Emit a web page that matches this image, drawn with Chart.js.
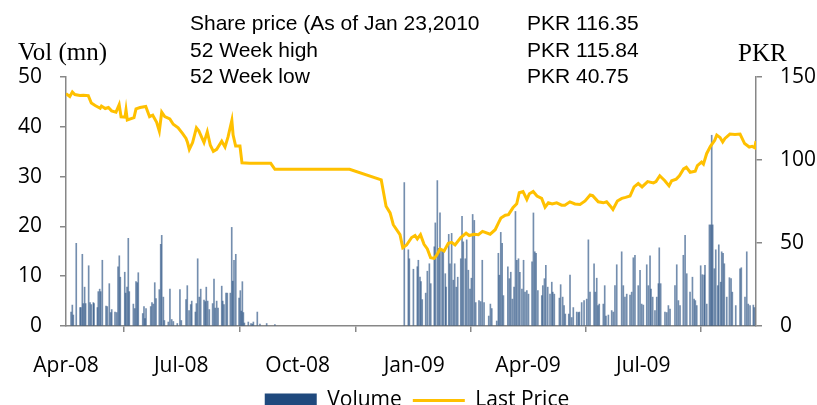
<!DOCTYPE html>
<html>
<head>
<meta charset="utf-8">
<script src="https://cdn.jsdelivr.net/npm/chart.js@4.4.1/dist/chart.umd.min.js"></script>
<style>
  html, body { margin:0; padding:0; background:#fff; overflow:hidden; }
  #wrap { position:relative; width:817px; height:421px; }
</style>
</head>
<body>
<div id="wrap"><canvas id="priceChart"></canvas></div>
<script>
// x positions are days since 1 Apr 2008
const tickDays   = [0, 91, 183, 275, 365, 456];
const tickLabels = ["Apr-08", "Jul-08", "Oct-08", "Jan-09", "Apr-09", "Jul-09"];

const infoLabels = ["Share price (As of Jan 23,2010", "52 Week high", "52 Week low"];
const infoValues = ["PKR 116.35", "PKR 115.84", "PKR 40.75"];

const volDays = [
  4.0, 5.0, 5.8, 8.1, 11.1, 11.8, 12.9, 13.7, 14.7, 15.5, 17.9, 19.0, 20.0, 21.6, 22.1, 24.8, 25.5, 26.6, 27.4, 28.7,
  31.6, 32.6, 34.2, 35.3, 36.1, 38.7, 40.0, 41.1, 42.1, 42.9, 46.4, 47.1, 48.2, 49.2, 50.0, 53.2, 54.3, 55.3, 56.3, 57.1,
  60.6, 61.6, 62.4, 63.2, 66.9, 67.9, 69.0, 70.1, 71.1, 73.7, 74.8, 75.6, 76.9, 77.7, 80.8, 82.1, 83.5, 84.8, 87.9, 90.0,
  91.1, 94.8, 95.8, 97.2, 98.5, 99.3, 102.2, 103.0, 104.0, 105.3, 106.4, 109.0, 110.0, 110.8, 111.9, 113.2, 115.8, 116.9, 117.9, 119.0,
  120.1, 123.0, 123.8, 124.8, 126.4, 127.4, 129.8, 130.9, 131.7, 132.7, 134.1, 136.7, 137.7, 138.5, 139.3, 140.1, 140.9, 144.0, 146.1, 147.2,
  148.0, 151.1, 153.2, 158.5, 165.0,
  267.2, 270.4, 271.2, 274.4, 277.5, 278.3, 279.6, 280.4, 281.4, 284.1, 285.4, 287.0, 288.1, 290.9, 291.7, 293.3, 294.4, 295.4, 297.0, 298.0,
  299.6, 300.2, 302.3, 303.3, 304.6, 305.9, 307.0, 308.3, 309.4, 311.8, 312.8, 313.8, 315.4, 316.5, 317.8, 319.1, 320.2, 321.2, 322.5, 323.6,
  326.2, 327.5, 328.8, 330.2, 333.9, 335.2, 336.3, 340.2, 341.5, 342.3, 343.4, 344.5, 345.5, 349.0, 350.2, 351.3, 352.6, 353.9, 355.0, 356.1,
  357.4, 358.5, 360.1, 361.4, 362.6, 364.0, 365.3, 368.1, 369.2, 370.3, 371.3, 372.7, 375.8, 376.6, 377.9, 379.0, 380.5, 382.3, 383.7, 384.5,
  385.7, 389.7, 390.7, 392.3, 393.4, 394.4, 397.1, 398.1, 399.4, 400.7, 403.4, 404.7, 405.5, 407.3, 409.2, 411.3, 412.6, 413.9, 417.1, 418.1,
  419.2, 420.2, 421.2, 424.4, 425.5, 426.5, 428.4, 431.0, 432.3, 433.6, 435.0, 438.9, 440.2, 441.5, 442.9, 445.5, 446.8, 448.1, 449.4, 452.0,
  453.4, 454.7, 456.0, 458.7, 460.0, 461.3, 462.1, 463.4, 465.2, 466.6, 467.9, 468.6, 469.7, 473.1, 474.5, 475.8, 477.1, 481.0, 482.4, 483.7,
  485.0, 487.6, 489.0, 490.3, 492.9, 494.8, 496.1, 497.1, 498.2, 501.3, 502.6, 504.0, 504.7, 506.1, 508.2, 509.2, 510.0, 510.8, 512.1, 513.2,
  514.8, 515.6, 517.1, 517.9, 519.0, 520.0, 521.9, 524.0, 525.3, 526.3, 529.0, 532.4, 533.4, 536.3, 537.7, 538.9, 540.3, 542.9, 543.7
];
const volumes = [
  2.8, 4.2, 2.2, 16.6, 3.7, 3.7, 14.4, 4.5, 7.8, 4.5, 12.1, 4.7, 4.3, 4.7, 4.5, 3.7, 6.9, 7.4, 6.9, 13.2,
  4.0, 3.9, 8.5, 2.7, 3.3, 2.8, 2.7, 11.9, 14.1, 9.8, 10.8, 6.6, 7.8, 17.6, 6.9, 4.4, 3.5, 8.9, 8.7, 10.7,
  2.5, 3.9, 1.5, 3.5, 3.9, 4.7, 4.4, 8.7, 5.5, 7.3, 16.4, 18.2, 5.8, 1.1, 0.8, 7.4, 1.3, 0.9, 0.5, 7.3,
  1.1, 5.3, 8.1, 3.1, 4.3, 5.0, 2.8, 4.5, 13.5, 5.8, 7.4, 5.2, 4.9, 7.8, 5.0, 3.3, 4.5, 9.4, 3.6, 5.0,
  3.6, 8.0, 5.0, 4.3, 6.6, 6.6, 6.6, 19.8, 9.0, 13.2, 14.4, 5.6, 7.1, 3.0, 8.9, 2.7, 0.6, 0.8, 0.5, 0.4,
  0.8, 2.8, 0.4, 0.5, 0.3,
  28.8, 15.3, 13.5, 11.4, 11.9, 13.2, 9.8, 8.9, 5.3, 6.6, 11.0, 12.5, 8.5, 15.9, 20.7, 29.2, 15.6, 22.7, 15.3, 14.9,
  10.5, 7.8, 18.4, 12.5, 18.6, 9.2, 12.5, 7.8, 9.8, 13.5, 22.0, 16.9, 13.5, 17.3, 11.2, 7.4, 9.6, 22.4, 21.2, 4.7,
  5.1, 4.9, 13.2, 4.7, 2.0, 4.4, 3.5, 1.0, 14.6, 10.2, 18.8, 16.6, 6.1, 11.9, 9.5, 10.8, 5.4, 7.8, 23.0, 13.2,
  13.5, 10.8, 7.4, 13.2, 6.8, 7.1, 6.4, 12.9, 22.7, 14.9, 14.6, 7.1, 6.1, 8.1, 9.5, 12.2, 7.8, 6.4, 8.8, 6.8,
  6.4, 5.6, 8.3, 5.8, 4.1, 2.4, 2.4, 10.2, 1.7, 3.7, 2.8, 2.7, 2.8, 4.7, 5.1, 5.4, 17.3, 6.8, 12.5, 6.8,
  9.6, 4.1, 4.4, 4.4, 8.1, 2.0, 2.2, 3.1, 2.8, 8.1, 12.3, 14.9, 8.1, 5.8, 6.4, 6.2, 6.8, 13.7, 14.2, 8.1,
  11.2, 4.4, 4.2, 12.3, 8.1, 14.1, 7.4, 5.8, 3.1, 5.8, 8.5, 15.7, 8.5, 2.8, 2.7, 4.1, 3.4, 8.1, 12.3, 5.1,
  4.1, 14.2, 18.2, 10.5, 6.8, 9.8, 5.4, 5.1, 4.1, 12.1, 10.3, 10.2, 12.2, 4.4, 20.3, 20.3, 38.3, 20.3, 11.5, 15.3,
  8.1, 16.3, 8.8, 14.9, 14.6, 12.5, 5.8, 9.7, 9.5, 6.8, 4.1, 11.5, 11.7, 5.8, 14.9, 4.4, 4.1, 4.2, 3.7
];

const priceDays = [
  0, 3, 5, 7, 11, 13.7, 17.6, 20, 23, 27, 28, 31, 33.5, 36, 39.5, 42, 43.5, 46.6, 47.4, 48.4,
  53.7, 55.3, 58.5, 63, 66, 68.5, 71.6, 73.7, 75.6, 78, 82, 84.7, 88.6, 92, 94.8, 96, 97.4, 100, 103, 105,
  109, 111.6, 114, 116.4, 119, 123, 125.6, 128, 131, 132, 134, 137.4, 139, 145, 161.7, 165, 224, 249, 252.8, 256,
  258.5, 263.8, 266, 269, 273, 275.7, 277.5, 280, 282.8, 285.4, 288, 290.7, 292.8, 295.4, 298.6, 302, 304.6, 307.3, 311.8, 316,
  318.5, 322.3, 325.7, 329, 335, 339, 341.5, 343.5, 347, 349.5, 353, 356, 358, 361, 364, 366, 369, 372, 375.7, 378.4,
  381, 384, 387.6, 391.5, 394, 398, 402, 406, 410, 414, 416, 420.4, 424.4, 427, 430, 432, 435.5, 439, 442, 445.5,
  448.7, 452, 455, 459.4, 464, 466, 469, 473, 476.3, 478.4, 482, 484.5, 487.8, 490, 493, 497, 498.7, 502, 503.5, 506,
  509, 512.4, 514, 516.6, 518.7, 520.5, 524.4, 528.4, 532.4, 536, 539.7, 542, 544, 545
];
const prices = [
  140, 138.3, 141, 139.4, 138.8, 139, 138.8, 134.3, 132.8, 131.2, 132.5, 131, 131.6, 129.6, 128.8, 133.3, 126, 125.8, 130.2, 124.1,
  125.5, 130.8, 131.6, 132.2, 126.1, 127, 122.7, 117.4, 128.8, 126.1, 124.7, 121.5, 119.4, 116, 113, 110.5, 106.4, 110.5, 119.4, 117.4,
  110.5, 117, 108.9, 105.2, 106.4, 111.3, 107.8, 113.9, 123.9, 115, 108.4, 108.4, 98.3, 98.1, 98, 94.4, 94.4, 88, 72.2, 68.1,
  61, 55, 47.2, 48.8, 53.3, 54.5, 52.5, 55, 49.2, 46.4, 41.1, 40.7, 42.7, 46.4, 45.2, 49.8, 50.4, 48.8, 53.3, 55.9,
  54.5, 55.3, 55, 57, 55.3, 58, 62, 65, 66.7, 67.1, 71.2, 73.6, 80.3, 81, 76.3, 79.7, 81, 78.3, 76.9, 71.6,
  74.2, 73.5, 74.2, 72.8, 72.8, 74.8, 73.5, 73.2, 75.3, 78.9, 78.5, 74.8, 74.2, 74.8, 72.2, 70.2, 75.3, 76.9, 77.5, 78.3,
  83.8, 85.8, 83.8, 87, 86.2, 87, 90.5, 87.5, 84.4, 87.5, 88.5, 90.5, 94.6, 95.6, 92.6, 93.2, 96.6, 98.7, 97.5, 103.8,
  108.2, 111.9, 115, 113.6, 110.9, 113, 115.6, 115.4, 115.6, 109.9, 107.8, 108.2, 107.4, 111.5
];

const AXIS = "#878787";
const labelFont = { family:"'Open Sans', sans-serif", size:21 };

const headerText = {
  id:"headerText",
  afterDraw(chart) {
    const ctx = chart.ctx;
    ctx.save();
    ctx.fillStyle = "#000";
    ctx.textBaseline = "alphabetic";
    ctx.font = "21px 'Liberation Sans', Arial, sans-serif";
    const rows = [30, 56.5, 82.5];
    infoLabels.forEach((t, i) => ctx.fillText(t, 190, rows[i]));
    infoValues.forEach((t, i) => ctx.fillText(t, 527, rows[i]));
    ctx.font = "25px 'Liberation Serif', 'Times New Roman', serif";
    ctx.fillText("Vol (mn)", 18, 60);
    ctx.fillText("PKR", 738, 61);
    ctx.restore();
  }
};

function axisStyle() {
  return {
    grid:{ display:true, drawOnChartArea:false, drawTicks:true, tickLength:6, color:AXIS, lineWidth:1.5 },
    border:{ display:true, color:AXIS, width:1.5 }
  };
}

new Chart(document.getElementById("priceChart"), {
  data:{
    datasets:[
      {
        type:"bar",
        label:"Volume",
        data:volDays.map((d, i) => ({ x:d, y:volumes[i] })),
        backgroundColor:"rgba(31,73,125,.62)",
        borderWidth:0,
        barThickness:1,
        yAxisID:"y",
        order:1
      },
      {
        type:"line",
        label:"Last Price",
        data:priceDays.map((d, i) => ({ x:d, y:prices[i] })),
        borderColor:"#ffc000",
        backgroundColor:"#ffc000",
        borderWidth:3,
        pointRadius:0,
        tension:0,
        yAxisID:"y2",
        order:0
      }
    ]
  },
  options:{
    responsive:true,
    maintainAspectRatio:false,
    animation:false,
    layout:{ padding:{ top:77, left:18, right:1, bottom:0 } },
    plugins:{
      tooltip:{ enabled:false },
      legend:{
        position:"bottom",
        labels:{
          usePointStyle:true,
          pointStyleWidth:52,
          boxHeight:14,
          padding:11,
          color:"#000",
          font:labelFont,
          sort:(a, b) => a.datasetIndex - b.datasetIndex,
          generateLabels:chart => {
            const items = Chart.defaults.plugins.legend.labels.generateLabels(chart);
            items.forEach(it => {
              if (it.datasetIndex === 0) {
                it.pointStyle = "rect";
                it.fillStyle = "#1f497d";
                it.lineWidth = 0;
              } else {
                it.pointStyle = "line";
                it.strokeStyle = "#ffc000";
                it.lineWidth = 3;
              }
            });
            return items;
          }
        }
      }
    },
    scales:{
      x:{
        type:"linear",
        min:0,
        max:545,
        offset:false,
        ...axisStyle(),
        afterBuildTicks:axis => { axis.ticks = tickDays.map(v => ({ value:v })); },
        afterFit:axis => { axis.height = 53; axis.paddingLeft = 0; axis.paddingRight = 0; },
        ticks:{
          autoSkip:false,
          maxRotation:0,
          padding:21,
          color:"#000",
          font:labelFont,
          callback:v => tickLabels[tickDays.indexOf(v)]
        }
      },
      y:{
        position:"left",
        min:0,
        max:50,
        ...axisStyle(),
        afterFit:axis => { axis.width = 48; },
        ticks:{ stepSize:10, padding:18, color:"#000", font:labelFont }
      },
      y2:{
        position:"right",
        min:0,
        max:150,
        ...axisStyle(),
        afterFit:axis => { axis.width = 60; },
        ticks:{ stepSize:50, padding:18, color:"#000", font:labelFont }
      }
    }
  },
  plugins:[headerText]
});
</script>
</body>
</html>
